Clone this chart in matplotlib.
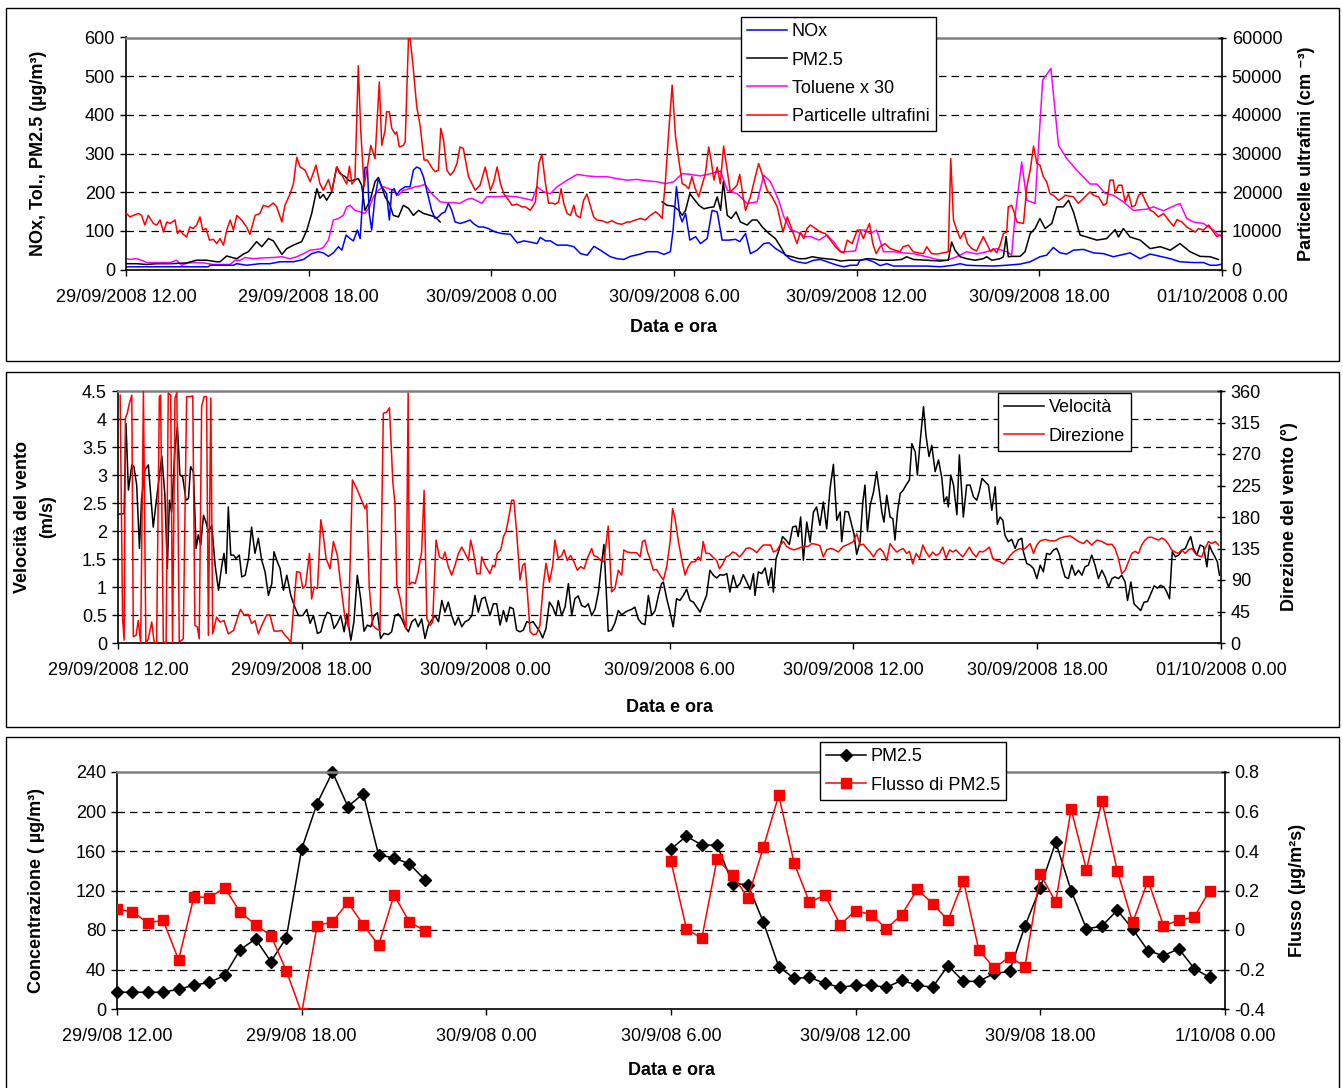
import numpy as np
import matplotlib
matplotlib.use("Agg")
import matplotlib.pyplot as plt
from matplotlib.patches import Rectangle
from matplotlib.ticker import FuncFormatter

plt.rcParams["font.family"] = ["Liberation Sans", "DejaVu Sans"]

W, H = 1343, 1088

# time axis: hours after 29/09/2008 12.00
HOUR_TICKS = [0, 6, 12, 18, 24, 30, 36]
LABELS_LONG = ["29/09/2008 12.00", "29/09/2008 18.00", "30/09/2008 0.00", "30/09/2008 6.00",
               "30/09/2008 12.00", "30/09/2008 18.00", "01/10/2008 0.00"]
LABELS_SHORT = ["29/9/08 12.00", "29/9/08 18.00", "30/9/08 0.00", "30/9/08 6.00",
                "30/9/08 12.00", "30/9/08 18.00", "1/10/08 0.00"]

# ---- panel 1: concentrations -------------------------------------------
nox_t = [0, 2.7, 2.76, 3.53, 3.64, 3.96, 4.4, 4.73, 5.06, 5.5, 5.83, 6.1, 6.32, 6.48, 6.65, 6.81,
         6.98, 7.09, 7.23, 7.36, 7.47, 7.6, 7.69, 7.78, 7.85, 7.93, 7.99, 8.07, 8.18, 8.29, 8.4,
         8.48, 8.56, 8.65, 8.73, 8.81, 8.89, 9.0, 9.17, 9.33, 9.44, 9.55, 9.66, 9.77, 9.88, 10.04,
         10.15, 10.26, 10.37, 10.48, 10.59, 10.7, 10.81, 10.98, 11.14, 11.3, 11.41, 11.58, 11.74, 11.9,
         12.13, 12.35, 12.63, 12.85, 13.07, 13.28, 13.5, 13.61, 13.78, 13.94, 14.16, 14.49, 14.71,
         14.93, 15.15, 15.37, 15.58, 15.91, 16.13, 16.35, 16.57, 16.9, 17.12, 17.45, 17.67, 17.88,
         17.97, 18.08, 18.19, 18.27, 18.38, 18.52, 18.71, 18.87, 19.09, 19.25, 19.42, 19.58, 19.8,
         20.02, 20.16, 20.35, 20.51, 20.73, 20.95, 21.12, 21.34, 21.61, 21.83, 22.05, 22.32, 22.59,
         22.81, 23.03, 23.36, 23.58, 23.8, 24.02,
         24.11, 24.33, 24.55, 24.77, 24.99, 25.21, 25.75, 26.3, 26.74, 27.18, 27.4, 27.61, 27.94,
         28.49, 28.93, 29.37, 29.7, 30.02, 30.24, 30.46, 30.68, 30.9, 31.12, 31.45, 31.78, 32.11,
         32.43, 32.65, 32.98, 33.31, 33.64, 33.97, 34.3, 34.62, 35.06, 35.39, 35.61, 35.83, 36.0]
nox = [7, 7, 11, 11, 15, 11, 15, 15, 20, 20, 26, 41, 46, 43, 34, 43, 59, 50, 89, 80, 74, 102, 80,
       188, 264, 264, 145, 102, 188, 235, 213, 205, 196, 128, 205, 209, 192, 205, 214, 214, 257,
       265, 261, 240, 205, 153, 132, 136, 145, 149, 171, 153, 123, 119, 123, 128, 119, 110, 110, 106,
       97, 93, 91, 69, 74, 71, 67, 83, 74, 74, 63, 63, 59, 41, 37, 60, 50, 33, 28, 26, 34, 40, 46,
       46, 39, 46, 102, 214, 140, 123, 145, 76, 85, 67, 80, 153, 149, 76, 76, 78, 72, 93, 41, 50,
       67, 69, 54, 41, 26, 20, 16, 24, 26, 20, 11, 7, 11, 11,
       24, 26, 20, 10, 15, 9, 9, 9, 7, 11, 15, 11, 10, 9, 11, 14, 20, 33, 37, 57, 43, 40, 50, 52,
       43, 41, 33, 37, 43, 28, 40, 34, 28, 20, 18, 18, 11, 11, 14]

pm25_t_a = [0, 0.35, 0.68, 1.01, 1.45, 1.99, 2.32, 2.65, 2.98, 3.09, 3.31, 3.53, 3.64, 3.86, 4.02,
            4.29, 4.46, 4.68, 4.84, 5.12, 5.28, 5.5, 5.77, 5.94, 6.1, 6.27, 6.37, 6.48, 6.59, 6.76,
            6.92, 7.03, 7.2, 7.34, 7.47, 7.63, 7.74, 7.85, 8.02, 8.18, 8.29, 8.4, 8.51, 8.65, 8.78,
            8.95, 9.11, 9.28, 9.44, 9.61, 9.77, 9.99, 10.15, 10.32]
pm25_a = [15, 15, 13, 15, 15, 17, 24, 24, 20, 20, 35, 30, 28, 40, 46, 72, 59, 80, 74, 39, 54, 63,
          72, 102, 145, 209, 184, 194, 179, 201, 265, 248, 240, 229, 231, 235, 218, 153, 179, 227,
          238, 214, 188, 171, 140, 136, 166, 158, 140, 153, 145, 140, 136, 123]
pm25_t_b = [17.61, 17.77, 17.97, 18.16, 18.27, 18.38, 18.52, 18.65, 18.82, 18.98, 19.14, 19.31,
            19.42, 19.53, 19.62, 19.75, 19.88, 20.04, 20.18, 20.4, 20.57, 20.73, 20.9, 21.12, 21.33,
            21.5, 21.66, 21.88, 22.1, 22.32, 22.54, 22.76, 22.98, 23.25, 23.47, 23.74, 24.02,
            24.11, 24.33, 24.55, 24.77, 24.99, 25.21, 25.48, 25.64, 25.86, 26.3, 26.74, 27.01, 27.12,
            27.23, 27.4, 27.61, 27.89, 28.16, 28.27, 28.44, 28.71, 28.82, 28.91, 28.98, 29.15, 29.37,
            29.53, 29.7, 29.86, 30.02, 30.19, 30.41, 30.57, 30.79, 30.96, 31.12, 31.34, 31.56, 31.89,
            32.21, 32.49, 32.6, 32.76, 32.98, 33.31, 33.64, 33.97, 34.3, 34.62, 34.95, 35.28, 35.61,
            35.88]
pm25_b = [175, 166, 164, 153, 140, 153, 196, 183, 166, 157, 160, 162, 188, 153, 227, 140, 132, 149,
          123, 115, 128, 128, 110, 93, 80, 59, 37, 33, 28, 28, 33, 30, 28, 26, 22, 24, 24,
          24, 28, 27, 24, 24, 24, 26, 33, 26, 24, 22, 24, 71, 50, 33, 28, 24, 28, 33, 24, 28, 33,
          85, 33, 34, 34, 46, 93, 106, 132, 106, 119, 162, 162, 179, 149, 89, 84, 76, 80, 103, 84,
          106, 84, 76, 54, 59, 50, 67, 46, 34, 33, 26]

tol_t = [0, 0.13, 0.35, 0.51, 0.68, 0.9, 1.12, 1.45, 1.66, 1.83, 1.99, 2.21, 2.54, 2.87, 3.2, 3.42,
         3.58, 3.75, 3.91, 4.18, 4.51, 4.84, 5.12, 5.39, 5.61, 5.83, 6.05, 6.37, 6.48, 6.65, 6.81,
         6.98, 7.14, 7.25, 7.36, 7.52, 7.69, 7.85, 8.0, 8.13, 8.29, 8.46, 8.62, 8.78, 8.95, 9.11,
         9.33, 9.5, 9.66, 9.82, 9.99, 10.15, 10.32, 10.54, 10.76, 10.97, 11.19, 11.36, 11.52, 11.69,
         11.85,
         12.19, 12.52, 12.85, 13.07, 13.34, 13.5, 13.72, 13.94, 14.16, 14.49, 14.82, 15.15, 15.47,
         15.8, 16.13, 16.46, 16.79, 17.12, 17.45, 17.72, 17.99, 18.27, 18.54, 18.87, 19.2, 19.53,
         19.75, 20.08, 20.4, 20.73, 20.95, 21.17, 21.44, 21.61, 21.83, 22.05, 22.27, 22.49, 22.76,
         23.03, 23.25, 23.47, 23.69, 23.96, 24.13, 24.27, 24.44, 24.66, 24.88, 25.21, 25.53, 25.86,
         26.3, 26.63, 26.96, 27.29, 27.61, 27.94, 28.27, 28.6, 28.93, 29.09, 29.2, 29.42, 29.59,
         29.86, 30.11, 30.38, 30.63, 30.9, 31.23, 31.67, 31.89, 32.16, 32.43, 32.76, 33.09, 33.53,
         33.75, 34.08, 34.35, 34.62, 34.84, 35.06, 35.39, 35.72, 35.88, 36.0]
tol_x30 = [28, 26, 28, 24, 18, 18, 18, 18, 24, 11, 16, 18, 17, 13, 13, 13, 24, 24, 31, 28, 30, 31,
           33, 28, 33, 41, 50, 53, 57, 76, 128, 132, 140, 162, 166, 153, 149, 145, 162, 188, 205,
           214, 209, 205, 192, 205, 209, 214, 216, 220, 201, 188, 175, 173, 173, 171, 181, 184, 178,
           171, 188,
           188, 190, 188, 184, 179, 214, 201, 196, 214, 231, 246, 242, 240, 240, 235, 231, 233, 229,
           227, 222, 227, 248, 246, 242, 248, 255, 205, 196, 171, 175, 244, 227, 179, 136, 102, 97,
           85, 85, 76, 89, 71, 46, 46, 48, 102, 102, 93, 102, 46, 46, 43, 41, 33, 26, 24, 33, 46,
           40, 46, 54, 46, 37, 136, 278, 179, 171, 490, 520, 321, 287, 257, 221, 221, 197, 192, 175,
           153, 156, 162, 152, 162, 171, 132, 123, 119, 102, 89, 86]

# ultrafine particles, thousands of particles per cm3
ufp_t = [0, 0.13, 0.24, 0.41, 0.51, 0.62, 0.73, 0.9, 1.01, 1.12, 1.23, 1.34, 1.45, 1.61, 1.69, 1.77,
         1.88, 1.99, 2.1, 2.21, 2.32, 2.43, 2.52, 2.63, 2.74, 2.87, 2.98, 3.09, 3.2, 3.31, 3.42,
         3.53, 3.64, 3.8, 3.96, 4.07, 4.24, 4.4, 4.51, 4.68, 4.84, 4.95, 5.12, 5.22, 5.39, 5.5,
         5.61, 5.72, 5.88, 6.05, 6.24, 6.37, 6.48, 6.65, 6.76, 6.92, 7.09, 7.25, 7.34, 7.42, 7.52,
         7.63, 7.71, 7.82, 7.93, 8.04, 8.18, 8.32, 8.4, 8.51, 8.56, 8.65, 8.73, 8.84, 8.89, 8.98,
         9.11, 9.17, 9.28, 9.33, 9.42, 9.55, 9.66, 9.79, 9.9, 10.04, 10.15, 10.26, 10.34, 10.43,
         10.54, 10.65, 10.76, 10.87, 10.97, 11.08, 11.25, 11.47, 11.63, 11.8,
         11.97, 12.08, 12.19, 12.3, 12.41, 12.57, 12.68, 12.84, 13.01, 13.12, 13.28, 13.45, 13.56,
         13.66, 13.77, 13.88, 13.99, 14.1, 14.21, 14.29, 14.38, 14.49, 14.6, 14.71, 14.79, 14.92,
         15.03, 15.14, 15.25, 15.36, 15.47, 15.64, 15.8, 15.96, 16.13, 16.29, 16.46, 16.57, 16.73,
         16.9, 17.06, 17.22, 17.39, 17.5, 17.61, 17.72, 17.83, 17.94, 18.05, 18.16, 18.27, 18.37,
         18.48, 18.59, 18.7, 18.81, 18.92, 19.03, 19.14, 19.22, 19.31, 19.42, 19.52, 19.63, 19.74,
         19.85, 19.96, 20.07, 20.16, 20.27, 20.35, 20.51, 20.67, 20.78, 20.89, 21.06, 21.22, 21.39,
         21.58, 21.72, 21.88, 22.04, 22.15, 22.26, 22.37, 22.48, 22.65, 22.81, 22.97, 23.14, 23.3,
         23.47, 23.58, 23.69, 23.85, 24.02,
         24.11, 24.22, 24.33, 24.42, 24.53, 24.64, 24.77, 24.93, 25.1, 25.26, 25.42, 25.53, 25.7,
         25.86, 26.03, 26.19, 26.3, 26.46, 26.63, 26.85, 27.01, 27.09, 27.18, 27.29, 27.4, 27.53,
         27.64, 27.78, 27.94, 28.05, 28.16, 28.27, 28.4, 28.49, 28.6, 28.71, 28.82, 28.93, 28.98,
         29.09, 29.17, 29.26, 29.37, 29.48, 29.59, 29.7, 29.81, 29.92, 30.02, 30.13, 30.24, 30.35,
         30.46, 30.63, 30.74, 30.85, 30.96, 31.12, 31.28, 31.45, 31.67, 31.78, 31.94, 32.11, 32.21,
         32.32, 32.43, 32.49, 32.6, 32.71, 32.82, 32.93, 33.04, 33.15, 33.26, 33.37, 33.47, 33.64,
         33.75, 33.91, 34.08, 34.24, 34.41, 34.52, 34.68, 34.84, 35.01, 35.12, 35.23, 35.39, 35.56,
         35.72, 35.83, 35.94, 36.0]
ufp_k = [14.6, 13.6, 14.0, 14.5, 14.0, 11.5, 14.0, 11.9, 11.5, 12.8, 9.7, 12.3, 11.9, 12.8, 9.3,
         10.2, 9.1, 8.4, 11.0, 10.6, 11.5, 13.6, 10.2, 10.6, 7.6, 7.8, 6.7, 8.0, 6.3, 10.2, 12.8,
         10.2, 14.0, 12.8, 11.0, 9.1, 14.0, 14.5, 16.6, 16.2, 17.2, 16.2, 12.3, 16.6, 19.6, 22.2,
         29.0, 26.5, 25.7, 22.7, 27.0, 22.2, 20.5, 23.3, 20.1, 26.5, 24.4, 22.1, 26.7, 22.1, 23.1,
         52.7, 36.0, 21.5, 26.5, 32.1, 28.7, 48.5, 32.1, 36.0, 40.8, 40.8, 36.5, 35.0, 35.6, 31.7,
         32.1, 33.0, 60.0, 60.0, 53.3, 42.1, 37.3, 28.3, 28.3, 26.4, 25.3, 25.7, 36.5, 33.5, 25.7,
         24.4, 25.3, 27.4, 31.7, 31.3, 24.0, 20.5, 21.8, 26.5,
         20.5, 22.7, 26.5, 22.2, 19.6, 17.9, 16.6, 16.9, 16.2, 16.2, 15.3, 17.5, 27.4, 29.8, 22.7,
         17.1, 17.2, 16.9, 17.5, 20.9, 17.1, 14.5, 14.0, 16.6, 14.0, 13.4, 17.9, 19.5, 16.6, 13.6,
         12.8, 12.6, 12.1, 12.6, 11.9, 11.7, 12.3, 12.3, 12.8, 13.2, 12.8, 14.0, 14.9, 14.3, 13.2,
         23.1, 36.0, 47.7, 34.3, 28.3, 22.2, 21.8, 20.9, 24.0, 20.9, 18.8, 21.8, 24.8, 31.7, 28.3,
         23.1, 26.5, 22.2, 31.9, 26.1, 20.1, 20.9, 21.8, 24.6, 18.8, 15.3, 18.8, 24.0, 27.4, 24.8,
         20.5, 18.8, 16.2, 9.7, 13.6, 10.2, 6.7, 9.7, 8.0, 10.6, 11.5, 10.6, 9.7, 9.3, 7.6, 5.9,
         4.6, 4.3, 7.6, 6.7, 10.2,
         10.2, 8.0, 10.2, 11.9, 6.7, 4.1, 5.9, 6.7, 5.4, 5.0, 4.6, 5.9, 6.3, 4.6, 4.3, 4.1, 5.9,
         4.1, 4.0, 4.3, 4.6, 28.7, 12.8, 10.2, 8.0, 9.7, 6.7, 5.4, 4.8, 6.7, 8.5, 6.7, 4.6, 5.4,
         4.3, 6.3, 9.3, 9.7, 16.2, 16.6, 14.9, 12.3, 12.1, 11.9, 21.4, 25.7, 31.9, 27.4, 27.0,
         24.0, 22.7, 19.6, 19.2, 17.9, 18.4, 19.2, 19.0, 18.8, 17.1, 18.4, 20.1, 19.2, 18.8, 16.6,
         17.1, 23.1, 23.1, 19.8, 21.8, 21.8, 17.5, 19.6, 16.2, 16.6, 19.2, 19.8, 17.9, 15.3, 14.9,
         13.6, 14.5, 12.8, 11.2, 12.9, 12.3, 11.0, 10.2, 9.7, 10.6, 10.2, 11.5, 9.7, 8.5, 8.9, 8.7]

# ---- panel 2: wind -----------------------------------------------------
speed_t = [0.0, 0.2, 0.26, 0.34, 0.45, 0.52, 0.61, 0.7, 0.77, 0.88, 0.99, 1.15, 1.26, 1.43, 1.53,
           1.61, 1.68, 1.75, 1.86, 1.94, 2.02, 2.11, 2.22, 2.3, 2.37, 2.46, 2.55, 2.62, 2.7, 2.79,
           2.87, 2.95, 3.06, 3.17, 3.28, 3.39, 3.46, 3.53, 3.6, 3.68, 3.77, 3.85, 3.96, 4.04, 4.15,
           4.26, 4.36, 4.47, 4.58, 4.69, 4.8, 4.91, 5.02, 5.09, 5.2, 5.29, 5.4, 5.51, 5.64, 5.75,
           5.89, 6.03, 6.16, 6.27, 6.38, 6.51, 6.62, 6.72, 6.83, 6.94, 7.05, 7.16, 7.27, 7.38, 7.47,
           7.6, 7.7, 7.81, 7.92, 8.03, 8.14, 8.25, 8.36, 8.47, 8.57, 8.68, 8.82, 8.93, 9.04, 9.15,
           9.26, 9.37, 9.48, 9.59, 9.7, 9.8, 9.91, 10.02, 10.13, 10.24, 10.35, 10.46, 10.57, 10.67,
           10.78, 10.89, 11.0, 11.11, 11.22, 11.33, 11.44, 11.55, 11.65, 11.76, 11.87, 11.98,
           12.14, 12.25, 12.36, 12.47, 12.58, 12.68, 12.79, 12.9, 13.01, 13.12, 13.23, 13.34, 13.45,
           13.55, 13.66, 13.77, 13.86, 13.97, 14.08, 14.19, 14.29, 14.37, 14.48, 14.59, 14.7, 14.81,
           14.91, 15.02, 15.13, 15.24, 15.35, 15.46, 15.57, 15.68, 15.79, 15.86, 16.0, 16.11, 16.22,
           16.33, 16.44, 16.55, 16.66, 16.76, 16.87, 16.98, 17.09, 17.2, 17.31, 17.42, 17.53, 17.64,
           17.74, 17.8, 17.91, 18.02, 18.12, 18.23, 18.34, 18.45, 18.56, 18.67, 18.78, 18.89, 19.0,
           19.1, 19.21, 19.32, 19.43, 19.54, 19.65, 19.76, 19.87, 19.97, 20.08, 20.19, 20.3, 20.41,
           20.52, 20.63, 20.74, 20.79, 20.9, 21.01, 21.12, 21.23, 21.33, 21.39, 21.48, 21.58, 21.69,
           21.8, 21.91, 22.02, 22.13, 22.2, 22.28, 22.37, 22.48, 22.59, 22.7, 22.8, 22.91, 23.02,
           23.13, 23.24, 23.35, 23.46, 23.57, 23.62, 23.73, 23.84, 23.95, 24.02, 24.11,
           24.22, 24.31, 24.38, 24.46, 24.55, 24.66, 24.76, 24.85, 24.93, 25.0, 25.09, 25.2, 25.29,
           25.36, 25.44, 25.53, 25.63, 25.72, 25.83, 25.91, 26.02, 26.09, 26.18, 26.29, 26.37, 26.47,
           26.56, 26.67, 26.78, 26.89, 26.96, 27.05, 27.1, 27.18, 27.27, 27.38, 27.46, 27.59, 27.7,
           27.81, 27.92, 28.03, 28.12, 28.2, 28.3, 28.41, 28.52, 28.63, 28.7, 28.79, 28.88, 28.95,
           29.06, 29.17, 29.28, 29.39, 29.5, 29.55, 29.66, 29.77, 29.88, 29.99, 30.1, 30.2, 30.31,
           30.42, 30.53, 30.64, 30.73, 30.8, 30.91, 31.02, 31.13, 31.24, 31.35, 31.46, 31.56, 31.67,
           31.78, 31.89, 32.0, 32.11, 32.22, 32.33, 32.44, 32.54, 32.65, 32.76, 32.87, 32.95, 33.06,
           33.16, 33.27, 33.38, 33.49, 33.6, 33.71, 33.82, 33.93, 34.03, 34.14, 34.23, 34.32, 34.41,
           34.51, 34.62, 34.73, 34.84, 34.93, 35.01, 35.1, 35.21, 35.32, 35.43, 35.54, 35.62, 35.71,
           35.8, 35.88, 35.95]
speed = [2.3, 2.31, 3.92, 2.73, 3.18, 3.15, 2.82, 1.69, 2.58, 3.09, 3.18, 2.07, 2.58, 3.34, 2.64,
         1.33, 2.55, 2.34, 3.47, 3.86, 3.0, 2.97, 2.55, 2.58, 3.15, 3.06, 1.69, 1.93, 1.75, 2.28,
         2.16, 1.98, 2.1, 1.39, 0.94, 1.39, 1.6, 1.24, 2.43, 1.57, 1.57, 1.51, 1.57, 1.18, 1.21,
         1.51, 2.07, 1.6, 1.87, 1.48, 1.27, 0.85, 1.06, 1.63, 1.45, 1.33, 0.94, 1.21, 0.85, 0.67,
         0.49, 0.49, 0.6, 0.35, 0.49, 0.17, 0.2, 0.41, 0.55, 0.52, 0.26, 0.35, 0.49, 0.2, 0.52,
         0.05, 0.38, 1.21, 0.79, 0.21, 0.32, 0.29, 0.49, 0.54, 0.08, 0.17, 0.15, 0.2, 0.49, 0.52,
         0.43, 0.29, 0.2, 0.38, 0.43, 0.29, 0.43, 0.08, 0.32, 0.41, 0.49, 0.38, 0.76, 0.55, 0.73,
         0.49, 0.32, 0.46, 0.29, 0.38, 0.41, 0.49, 0.85, 0.55, 0.79, 0.82,
         0.49, 0.7, 0.7, 0.32, 0.58, 0.38, 0.64, 0.61, 0.23, 0.2, 0.23, 0.38, 0.36, 0.38, 0.29,
         0.2, 0.09, 0.26, 0.73, 0.64, 0.49, 0.76, 0.49, 0.64, 1.06, 0.49, 0.79, 0.84, 0.67, 0.64,
         0.7, 0.49, 0.61, 0.91, 1.45, 1.76, 0.21, 0.23, 0.36, 0.58, 0.5, 0.55, 0.58, 0.6, 0.64,
         0.43, 0.35, 0.33, 0.85, 0.49, 0.58, 0.85, 1.06, 1.09, 0.79, 0.55, 0.29, 0.79, 0.76, 0.85,
         0.96, 0.76, 0.73, 0.64, 0.55, 0.7, 0.85, 1.3, 1.21, 1.16, 1.22, 1.21, 1.24, 0.91, 1.21,
         1.0, 1.06, 1.22, 1.09, 0.96, 1.24, 0.85, 1.27, 1.24, 1.34, 1.03, 1.34, 0.91, 1.51, 1.67,
         1.9, 1.84, 1.76, 2.07, 2.09, 1.9, 2.25, 1.48, 2.16, 1.8, 2.34, 2.43, 2.1, 2.52, 2.04,
         2.76, 3.19, 2.19, 2.34, 1.81, 2.35, 2.34, 2.1, 1.95, 1.58,
         1.81, 2.52, 2.82, 1.99, 2.46, 2.7, 3.06, 2.7, 2.34, 2.16, 2.64, 2.25, 2.22, 1.84, 2.34,
         2.67, 2.73, 2.82, 2.91, 3.56, 3.41, 3.0, 3.59, 4.22, 3.71, 3.33, 3.53, 3.06, 3.27, 2.94,
         2.52, 2.61, 2.43, 3.0, 2.82, 2.29, 3.36, 2.25, 2.82, 2.82, 2.61, 2.55, 2.73, 2.94, 2.88,
         2.82, 2.37, 2.79, 2.12, 2.25, 2.19, 1.92, 1.81, 1.85, 1.69, 1.84, 1.87, 1.63, 1.42, 1.39,
         1.33, 1.15, 1.39, 1.27, 1.6, 1.58, 1.66, 1.69, 1.57, 1.39, 1.18, 1.15, 1.39, 1.21, 1.3,
         1.21, 1.36, 1.39, 1.57, 1.39, 1.15, 1.3, 1.18, 1.0, 1.15, 1.18, 1.15, 1.21, 1.09, 0.76,
         1.09, 0.7, 0.64, 0.58, 0.73, 0.74, 0.88, 1.02, 0.98, 1.03, 1.0, 0.91, 0.79, 1.63, 1.54,
         1.57, 1.66, 1.69, 1.81, 1.9, 1.69, 1.57, 1.75, 1.72, 1.36, 1.75, 1.63, 1.54, 1.45, 1.21]

dir_t = [0.07, 0.15, 0.2, 0.24, 0.3, 0.37, 0.45, 0.5, 0.59, 0.66, 0.74, 0.83, 0.91, 0.99, 1.1, 1.18,
         1.26, 1.35, 1.39, 1.48, 1.57, 1.64, 1.72, 1.78, 1.86, 1.92, 2.0, 2.13, 2.24, 2.35, 2.44,
         2.51, 2.59, 2.65, 2.73, 2.81, 2.89, 2.95, 3.03, 3.09, 3.22, 3.33, 3.46, 3.6, 3.77, 3.93,
         4.0, 4.11, 4.25, 4.36, 4.47, 4.58, 4.69, 4.85, 4.96, 5.09, 5.23, 5.34, 5.45, 5.56, 5.64,
         5.72, 5.83, 5.94, 6.03, 6.12, 6.25, 6.32, 6.4, 6.51, 6.62, 6.7, 6.79, 6.92, 7.03, 7.16,
         7.27, 7.41, 7.52, 7.65, 7.79, 7.92, 8.06, 8.12, 8.2, 8.31, 8.44, 8.55, 8.66, 8.77, 8.86,
         8.97, 9.04, 9.1, 9.21, 9.32, 9.4, 9.47, 9.51, 9.59, 9.7, 9.8, 9.91, 9.99, 10.08, 10.19,
         10.27, 10.38, 10.49, 10.6, 10.67, 10.78, 10.89, 11.0, 11.11, 11.22, 11.33, 11.44, 11.51,
         11.6, 11.71, 11.82, 11.87, 11.98,
         12.14, 12.23, 12.3, 12.38, 12.49, 12.58, 12.66, 12.74, 12.85, 12.92, 13.01, 13.12, 13.21,
         13.28, 13.36, 13.45, 13.55, 13.66, 13.77, 13.88, 13.97, 14.08, 14.19, 14.26, 14.37, 14.48,
         14.56, 14.66, 14.77, 14.88, 14.99, 15.1, 15.21, 15.32, 15.46, 15.53, 15.64, 15.75, 15.86,
         16.0, 16.11, 16.22, 16.33, 16.44, 16.51, 16.62, 16.76, 16.93, 17.04, 17.12, 17.2, 17.28,
         17.36, 17.47, 17.58, 17.69, 17.8, 17.91, 18.02, 18.1, 18.18, 18.29, 18.4, 18.51, 18.61,
         18.72, 18.83, 18.94, 19.02, 19.1, 19.19, 19.3, 19.41, 19.54, 19.63, 19.74, 19.84, 19.95,
         20.06, 20.17, 20.28, 20.39, 20.5, 20.61, 20.74, 20.85, 20.95, 21.06, 21.19, 21.3, 21.39,
         21.5, 21.61, 21.72, 21.82, 21.93, 22.06, 22.2, 22.37, 22.53, 22.64, 22.78, 22.91, 23.02,
         23.13, 23.24, 23.35, 23.51, 23.67, 23.84, 24.0, 24.11,
         24.22, 24.33, 24.44, 24.55, 24.66, 24.76, 24.87, 24.98, 25.09, 25.2, 25.31, 25.42, 25.53,
         25.63, 25.74, 25.83, 25.94, 26.05, 26.16, 26.27, 26.37, 26.48, 26.59, 26.7, 26.81, 26.92,
         27.03, 27.14, 27.25, 27.35, 27.46, 27.57, 27.68, 27.79, 27.9, 28.01, 28.12, 28.22, 28.33,
         28.44, 28.55, 28.66, 28.79, 28.9, 29.01, 29.12, 29.23, 29.33, 29.44, 29.55, 29.66, 29.77,
         29.88, 29.99, 30.1, 30.26, 30.42, 30.59, 30.75, 30.91, 31.08, 31.18, 31.35, 31.51, 31.62,
         31.78, 31.95, 32.11, 32.27, 32.44, 32.54, 32.65, 32.76, 32.87, 32.98, 33.09, 33.2, 33.31,
         33.41, 33.52, 33.63, 33.74, 33.85, 33.96, 34.07, 34.18, 34.29, 34.39, 34.5, 34.61, 34.72,
         34.83, 34.94, 35.05, 35.16, 35.26, 35.37, 35.48, 35.59, 35.7, 35.81, 35.92]
direction = [354, 35, 4, 321, 328, 342, 354, 9, 11, 32, 0, 359, 0, 6, 30, 1, 0, 352, 354, 1, 1, 357,
             354, 1, 350, 358, 1, 6, 352, 352, 353, 25, 23, 6, 338, 352, 352, 11, 350, 13, 37, 30,
             32, 13, 18, 40, 48, 40, 41, 28, 32, 13, 25, 40, 40, 17, 17, 18, 11, 6, 1, 44, 102, 101,
             78, 82, 128, 63, 80, 78, 176, 154, 121, 106, 145, 125, 83, 35, 23, 233, 221, 207, 192,
             199, 80, 25, 20, 18, 328, 330, 336, 230, 199, 83, 63, 35, 20, 357, 83, 87, 85, 102,
             130, 218, 35, 25, 30, 147, 123, 120, 130, 109, 97, 111, 128, 137, 128, 118, 147, 130,
             99, 99, 123, 111,
             99, 111, 109, 128, 133, 152, 159, 176, 204, 204, 159, 90, 111, 114, 73, 16, 12, 13, 25,
             83, 114, 87, 111, 147, 121, 125, 133, 118, 125, 116, 104, 109, 106, 121, 135, 125, 123,
             118, 116, 167, 73, 78, 104, 97, 133, 130, 129, 129, 123, 145, 147, 130, 121, 104, 105,
             97, 90, 109, 145, 192, 178, 145, 119, 97, 109, 116, 116, 123, 118, 145, 128, 128, 123,
             118, 106, 113, 123, 125, 130, 128, 123, 128, 135, 136, 133, 129, 135, 140, 140, 140,
             130, 132, 140, 145, 138, 135, 133, 135, 138, 138, 142, 141, 139, 123, 133, 135, 134,
             130, 138, 141, 145, 156,
             140, 141, 135, 130, 123, 131, 135, 130, 118, 142, 135, 130, 133, 135, 128, 131, 113,
             128, 121, 140, 130, 123, 130, 125, 128, 137, 121, 133, 130, 133, 128, 123, 130, 137,
             128, 123, 131, 130, 133, 137, 121, 118, 116, 113, 118, 125, 130, 133, 135, 133, 137,
             142, 128, 140, 146, 148, 146, 146, 150, 152, 153, 150, 145, 142, 147, 140, 147, 145,
             141, 141, 135, 121, 99, 104, 116, 128, 131, 128, 140, 147, 151, 151, 149, 147, 150,
             147, 141, 133, 130, 128, 133, 128, 133, 135, 128, 125, 123, 135, 145, 142, 145, 140]

# ---- panel 3: half-hourly PM2.5 and its flux ----------------------------
half_hour_a = np.arange(0, 10.5, 0.5)      # 12.00 -> 22.00
half_hour_b = np.arange(18, 36, 0.5)       # 6.00 -> 23.30
conc_a = [17, 17, 17, 17, 20, 24, 27, 34, 60, 71, 48, 72, 162, 208, 240, 205, 218, 156, 153, 147, 131]
conc_b = [162, 175, 166, 166, 127, 126, 88, 43, 31, 32, 26, 22, 24, 24, 22, 29, 24, 22, 44, 28,
          28, 36, 38, 84, 123, 169, 120, 81, 84, 100, 81, 59, 54, 61, 41, 32]
flux_a = [0.105, 0.093, 0.036, 0.049, -0.151, 0.169, 0.164, 0.213, 0.091, 0.027, -0.028, -0.206,
          -0.42, 0.022, 0.041, 0.140, 0.027, -0.077, 0.177, 0.041, -0.003]
flux_b = [0.347, 0.007, -0.043, 0.361, 0.277, 0.164, 0.418, 0.682, 0.339, 0.140, 0.177, 0.027,
          0.098, 0.078, 0.007, 0.078, 0.206, 0.134, 0.049, 0.250, -0.100, -0.193, -0.136, -0.185,
          0.283, 0.142, 0.612, 0.305, 0.654, 0.300, 0.038, 0.250, 0.022, 0.049, 0.066, 0.199]

for a, b in [(nox_t, nox), (pm25_t_a, pm25_a), (pm25_t_b, pm25_b), (tol_t, tol_x30),
             (ufp_t, ufp_k), (speed_t, speed), (dir_t, direction),
             (half_hour_a, conc_a), (half_hour_b, conc_b), (half_hour_a, flux_a), (half_hour_b, flux_b)]:
    assert len(a) == len(b), (len(a), len(b))


def gap_join(t1, v1, t2, v2):
    return (np.r_[t1, np.nan, t2], np.r_[v1, np.nan, v2])


fig = plt.figure(figsize=(W / 100, H / 100), dpi=100)

FS = 13
GRID = dict(color="black", lw=0.9, ls=(0, (6, 4)), zorder=0.5)


def add_axes_px(left, top, right, bottom):
    return fig.add_axes([left / W, 1 - bottom / H, (right - left) / W, (bottom - top) / H])


def panel_box(top, bottom):
    fig.add_artist(Rectangle((6 / W, 1 - bottom / H), (1339 - 6) / W, (bottom - top) / H,
                             transform=fig.transFigure, fill=False, ec="black", lw=1.0))


def num(v, pos):
    return f"{round(v, 2) + 0:g}"


def style(ax, ax2, yticks, y2ticks, xlabels, fmt2=num):
    ax.set_xlim(0, 36)
    ax.set_xticks(HOUR_TICKS)
    ax.set_xticklabels(xlabels)
    ax.set_ylim(yticks[0], yticks[-1])
    ax.set_yticks(yticks)
    ax.yaxis.set_major_formatter(FuncFormatter(num))
    ax2.set_ylim(y2ticks[0], y2ticks[-1])
    ax2.set_yticks(y2ticks)
    ax2.yaxis.set_major_formatter(FuncFormatter(fmt2))
    for y in yticks[1:-1]:
        ax.axhline(y, **GRID)
    ax.spines["top"].set_color("#808080")
    ax.spines["top"].set_linewidth(1.8)
    ax.spines["right"].set_visible(False)
    ax.spines["left"].set_linewidth(1.2)
    ax.spines["bottom"].set_linewidth(1.2)
    for s in ("top", "left", "bottom"):
        ax2.spines[s].set_visible(False)
    ax2.spines["right"].set_linewidth(1.2)
    ax.tick_params(axis="x", direction="out", length=4, width=1, pad=10, labelsize=FS)
    ax.tick_params(axis="y", direction="out", length=4, width=1, pad=4, labelsize=FS)
    ax2.tick_params(axis="y", direction="inout", length=6, width=1, pad=4, labelsize=FS)


def legend(handles, x, y):
    leg = fig.legend(handles=handles, loc="upper left", bbox_to_anchor=(x / W, 1 - y / H),
                     borderaxespad=0, frameon=True, fancybox=False, edgecolor="black",
                     framealpha=1, fontsize=FS, handlelength=2.2, handletextpad=0.25,
                     borderpad=0.35, labelspacing=0.62)
    leg.get_frame().set_linewidth(1.0)
    return leg


# ---------------- panel 1
panel_box(8, 361)
ax1 = add_axes_px(126, 37.5, 1222, 269.5)
ax1b = ax1.twinx()
h_tol, = ax1.plot(tol_t, tol_x30, color="#FF00FF", lw=1.1, label="Toluene x 30")
h_pm, = ax1.plot(*gap_join(pm25_t_a, pm25_a, pm25_t_b, pm25_b), color="black", lw=1.1, label="PM2.5")
h_nox, = ax1.plot(nox_t, nox, color="#0000FF", lw=1.1, label="NOx")
h_ufp, = ax1b.plot(ufp_t, np.array(ufp_k) * 1000, color="#FF0000", lw=1.1, label="Particelle ultrafini")
style(ax1, ax1b, list(range(0, 601, 100)), list(range(0, 60001, 10000)), LABELS_LONG,
      fmt2=lambda v, p: f"{int(v)}")
ax1.set_xlabel("Data e ora", fontsize=FS, fontweight="bold")
ax1.xaxis.set_label_coords(0.5, -0.215)
ax1.set_ylabel("NOx, Tol., PM2.5 (µg/m³)", fontsize=FS, fontweight="bold")
ax1.yaxis.set_label_coords(-0.072, 0.5)
ax1b.set_ylabel("Particelle ultrafini (cm ⁻³)", fontsize=FS, fontweight="bold")
ax1b.yaxis.set_label_coords(1.069, 0.5)
legend([h_nox, h_pm, h_tol, h_ufp], 741, 17)

# ---------------- panel 2
panel_box(372, 727)
ax2 = add_axes_px(118, 391, 1221, 643)
ax2b = ax2.twinx()
h_v, = ax2.plot(speed_t, speed, color="black", lw=1.1, label="Velocità")
h_d, = ax2b.plot(dir_t, direction, color="#FF0000", lw=1.1, label="Direzione")
style(ax2, ax2b, [0, 0.5, 1, 1.5, 2, 2.5, 3, 3.5, 4, 4.5], list(range(0, 361, 45)), LABELS_LONG)
ax2.set_xlabel("Data e ora", fontsize=FS, fontweight="bold")
ax2.xaxis.set_label_coords(0.5, -0.222)
ax2.set_ylabel("Velocità del vento\n(m/s)", fontsize=FS, fontweight="bold", linespacing=1.6)
ax2.yaxis.set_label_coords(-0.056, 0.5)
ax2b.set_ylabel("Direzione del vento (°)", fontsize=FS, fontweight="bold")
ax2b.yaxis.set_label_coords(1.054, 0.5)
legend([h_v, h_d], 998, 393)

# ---------------- panel 3
panel_box(737, 1090)
ax3 = add_axes_px(117, 772, 1225, 1009)
ax3b = ax3.twinx()
h_c, = ax3.plot(*gap_join(half_hour_a, conc_a, half_hour_b, conc_b), color="black", lw=1.1,
                marker="D", ms=6.5, mfc="black", mec="black", label="PM2.5", clip_on=False)
h_f, = ax3b.plot(*gap_join(half_hour_a, flux_a, half_hour_b, flux_b), color="#FF0000", lw=1.1,
                 marker="s", ms=6.5, mfc="#FF0000", mec="#FF0000", label="Flusso di PM2.5")
style(ax3, ax3b, list(range(0, 241, 40)), [-0.4, -0.2, 0, 0.2, 0.4, 0.6, 0.8], LABELS_SHORT)
ax3.set_xlabel("Data e ora", fontsize=FS, fontweight="bold")
ax3.xaxis.set_label_coords(0.5, -0.224)
ax3.set_ylabel("Concentrazione ( µg/m³)", fontsize=FS, fontweight="bold")
ax3.yaxis.set_label_coords(-0.065, 0.5)
ax3b.set_ylabel("Flusso (µg/m²s)", fontsize=FS, fontweight="bold")
ax3b.yaxis.set_label_coords(1.058, 0.5)
legend([h_c, h_f], 820, 742)

fig.savefig("out.png", dpi=100)
